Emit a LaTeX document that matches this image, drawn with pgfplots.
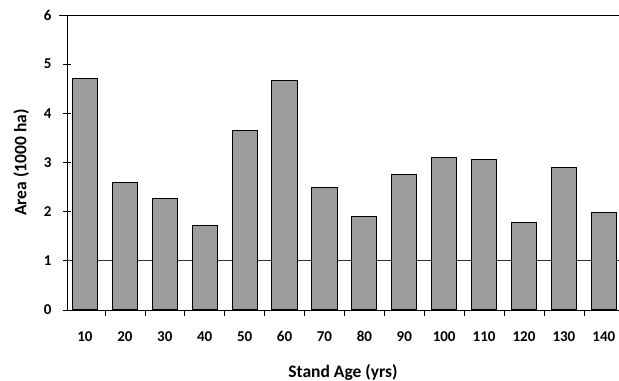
\documentclass[border=0pt]{standalone}
\usepackage{pgfplots}
\pgfplotsset{compat=1.18}
\usepackage{fontspec}
\setmainfont{Carlito}
\definecolor{barfill}{HTML}{9C9C9C}
\begin{document}
\begin{tikzpicture}
\begin{axis}[
  scale only axis,
  width=552pt, height=295pt,
  xmin=-0.45, xmax=13.38,
  ymin=0, ymax=6,
  axis x line*=bottom,
  axis y line*=left,
  axis line style={black, line width=0.8pt},
  xtick={0,...,13},
  xticklabels={10,20,30,40,50,60,70,80,90,100,110,120,130,140},
  major x tick style={draw=none},
  minor xtick={0.5,1.5,...,12.5},
  minor tick length=6pt,
  minor x tick style={black, line width=0.6pt, yshift=-3pt},
  xtick pos=bottom,
  tick align=center,
  ytick={0,1,...,6},
  ytick style={black, line width=0.8pt},
  major tick length=8pt,
  y tick label style={xshift=-8pt},
  x tick label style={yshift=-14pt},
  tick label style={font=\fontsize{15}{17}\selectfont\bfseries},
  /pgf/number format/assume math mode=true,
  xlabel={Stand Age (yrs)},
  ylabel={Area (1000 ha)},
  label style={font=\fontsize{17.5}{20}\selectfont\bfseries},
  xlabel style={yshift=-16pt},
  ylabel style={yshift=8pt},
  bar width=0.63,
  clip=false,
]
\addplot[black!80, line width=0.7pt] coordinates {(-0.45,1) (13.38,1)};
\addplot[ybar, fill=barfill, draw=black, line width=1pt] coordinates {
(0,4.70) (1,2.60) (2,2.26) (3,1.72) (4,3.66) (5,4.66) (6,2.50)
(7,1.90) (8,2.76) (9,3.10) (10,3.06) (11,1.78) (12,2.90) (13,1.98)};
\draw[black, line width=0.8pt] ([xshift=-8pt]rel axis cs:0,1) -- (rel axis cs:1,1);
\end{axis}
\pgfresetboundingbox
\path[use as bounding box] ([xshift=-67pt,yshift=-71pt]current axis.south west) rectangle ([yshift=15pt]current axis.north east);
\end{tikzpicture}
\end{document}
